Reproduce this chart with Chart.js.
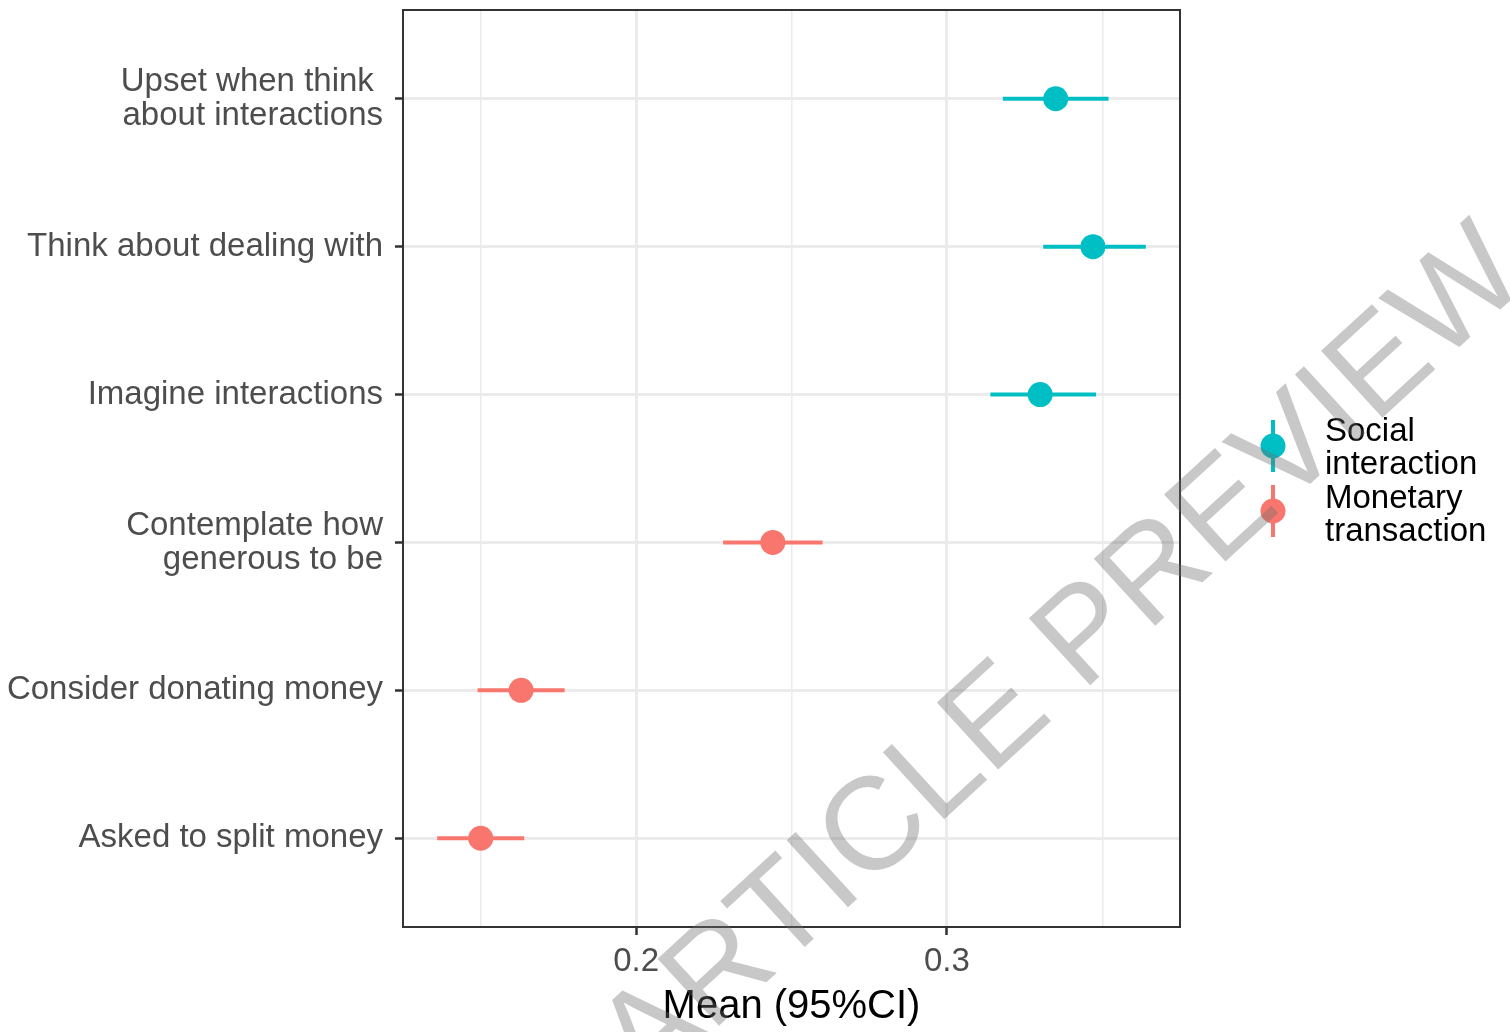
<!DOCTYPE html>
<html>
<head>
<meta charset="utf-8">
<script src="https://cdn.jsdelivr.net/npm/chart.js@4.4.1/dist/chart.umd.min.js"></script>
<style>
  html, body { margin: 0; padding: 0; background: #ffffff; }
  #c { display: block; }
</style>
</head>
<body>
<canvas id="c" width="1510" height="1032"></canvas>
<script>
// Item labels, top to bottom (trailing space kept as typeset)
const categories = [
  ['Upset when think ', 'about interactions'],
  ['Think about dealing with'],
  ['Imagine interactions'],
  ['Contemplate how', 'generous to be'],
  ['Consider donating money'],
  ['Asked to split money']
];
// Which group each item belongs to (index into seriesNames)
const seriesOf = [0, 0, 0, 1, 1, 1];
const seriesNames = ['Social interaction', 'Monetary transaction'];
const seriesLegendLines = [['Social', 'interaction'], ['Monetary', 'transaction']];
const seriesColors = ['#00BFC4', '#F8766D'];

// Means with 95% confidence limits
const means = [0.335, 0.347, 0.330, 0.244, 0.163, 0.150];
const lower = [0.318, 0.331, 0.314, 0.228, 0.149, 0.136];
const upper = [0.352, 0.364, 0.348, 0.260, 0.177, 0.164];

// Axis ticks
const xMajorTicks = [0.2, 0.3];
const xMinorTicks = [0.15, 0.25, 0.35];
const xTitle = 'Mean (95%CI)';
const watermarkText = 'ARTICLE PREVIEW';

const FONT = "'Liberation Sans', Arial, Helvetica, sans-serif";
Chart.defaults.font.family = FONT;

const isMajor = v => xMajorTicks.some(m => Math.abs(m - v) < 1e-9);

// Build point and interval datasets per group
const datasets = [];
seriesNames.forEach((name, s) => {
  const pts = [];
  const segs = [];
  means.forEach((m, i) => {
    if (seriesOf[i] !== s) return;
    pts.push({ x: m, y: i + 1 });
    segs.push({ x: lower[i], y: i + 1 });
    segs.push({ x: upper[i], y: i + 1 });
    segs.push({ x: upper[i], y: null });
  });
  datasets.push({
    label: name,
    data: pts,
    showLine: false,
    pointRadius: 12.5,
    pointHoverRadius: 12.5,
    pointBackgroundColor: seriesColors[s],
    pointBorderWidth: 0,
    borderColor: seriesColors[s],
    order: 0
  });
  datasets.push({
    label: name + ' CI',
    data: segs,
    showLine: true,
    spanGaps: false,
    pointRadius: 0,
    borderColor: seriesColors[s],
    borderWidth: 4,
    borderCapStyle: 'butt',
    order: 1
  });
});

// Panel border drawn over the data, like a framed plotting panel
const panelBorder = {
  id: 'panelBorder',
  afterDatasetsDraw(chart) {
    const { ctx, chartArea: a } = chart;
    ctx.save();
    ctx.strokeStyle = '#333333';
    ctx.lineWidth = 2;
    ctx.strokeRect(a.left, a.top, a.right - a.left, a.bottom - a.top);
    ctx.restore();
  }
};

// Legend with point-range keys on the right
const rangeLegend = {
  id: 'rangeLegend',
  afterDraw(chart) {
    const { ctx } = chart;
    const keyX = 1273;
    const keyY = [446, 511];
    const textX = 1325;
    const baselines = [[441, 474], [508, 541]];
    ctx.save();
    seriesNames.forEach((name, s) => {
      const cy = keyY[s];
      ctx.strokeStyle = seriesColors[s];
      ctx.lineWidth = 4;
      ctx.beginPath();
      ctx.moveTo(keyX, cy - 26);
      ctx.lineTo(keyX, cy + 26);
      ctx.stroke();
      ctx.fillStyle = seriesColors[s];
      ctx.beginPath();
      ctx.arc(keyX, cy, 12.5, 0, Math.PI * 2);
      ctx.fill();
      ctx.fillStyle = '#000000';
      ctx.font = '33px ' + FONT;
      ctx.textAlign = 'left';
      ctx.textBaseline = 'alphabetic';
      seriesLegendLines[s].forEach((line, k) => ctx.fillText(line, textX, baselines[s][k]));
    });
    ctx.restore();
  }
};

// Diagonal preview stamp over the whole figure
const stamp = {
  id: 'stamp',
  afterDraw(chart) {
    const { ctx } = chart;
    ctx.save();
    ctx.translate(1064, 660);
    ctx.rotate(-42.5 * Math.PI / 180);
    ctx.font = '132px ' + FONT;
    ctx.textAlign = 'center';
    ctx.textBaseline = 'middle';
    ctx.fillStyle = 'rgba(110,110,110,0.38)';
    ctx.fillText(watermarkText, 0, 0);
    ctx.restore();
  }
};

new Chart(document.getElementById('c'), {
  type: 'scatter',
  data: { datasets },
  options: {
    responsive: false,
    animation: false,
    devicePixelRatio: 1,
    events: [],
    layout: { autoPadding: false, padding: { left: 0, right: 330, top: 10, bottom: 0 } },
    plugins: {
      legend: { display: false },
      tooltip: { enabled: false }
    },
    scales: {
      x: {
        type: 'linear',
        min: 0.125,
        max: 0.375,
        afterBuildTicks: s => {
          s.ticks = [...xMinorTicks, ...xMajorTicks].sort((a, b) => a - b).map(v => ({ value: v }));
        },
        afterFit: s => { s.height = 105; s.paddingLeft = 0; s.paddingRight = 0; },
        border: { display: false },
        grid: {
          color: '#EBEBEB',
          lineWidth: ctx => (ctx.tick && isMajor(ctx.tick.value)) ? 3 : 1.5,
          drawTicks: true,
          tickLength: 8,
          tickWidth: 2.5,
          tickColor: ctx => (ctx.tick && isMajor(ctx.tick.value)) ? '#333333' : 'rgba(0,0,0,0)'
        },
        ticks: {
          autoSkip: false,
          maxRotation: 0,
          padding: 7,
          color: '#4D4D4D',
          font: { size: 33 },
          callback: v => isMajor(v) ? v.toFixed(1) : ''
        },
        title: {
          display: true,
          text: xTitle,
          color: '#000000',
          font: { size: 40 },
          padding: { top: 0, bottom: 1 }
        }
      },
      y: {
        type: 'linear',
        min: 0.4,
        max: 6.6,
        reverse: true,
        afterBuildTicks: s => {
          s.ticks = categories.map((c, i) => ({ value: i + 1 }));
        },
        afterFit: s => { s.width = 403; s.paddingTop = 0; s.paddingBottom = 0; },
        border: { display: false },
        grid: {
          color: '#EBEBEB',
          lineWidth: 3,
          drawTicks: true,
          tickLength: 8,
          tickWidth: 2.5,
          tickColor: '#333333'
        },
        ticks: {
          autoSkip: false,
          padding: 12,
          color: '#4D4D4D',
          font: { size: 33, lineHeight: 34 / 33 },
          callback: v => categories[Math.round(v) - 1]
        }
      }
    }
  },
  plugins: [panelBorder, rangeLegend, stamp]
});
</script>
</body>
</html>
